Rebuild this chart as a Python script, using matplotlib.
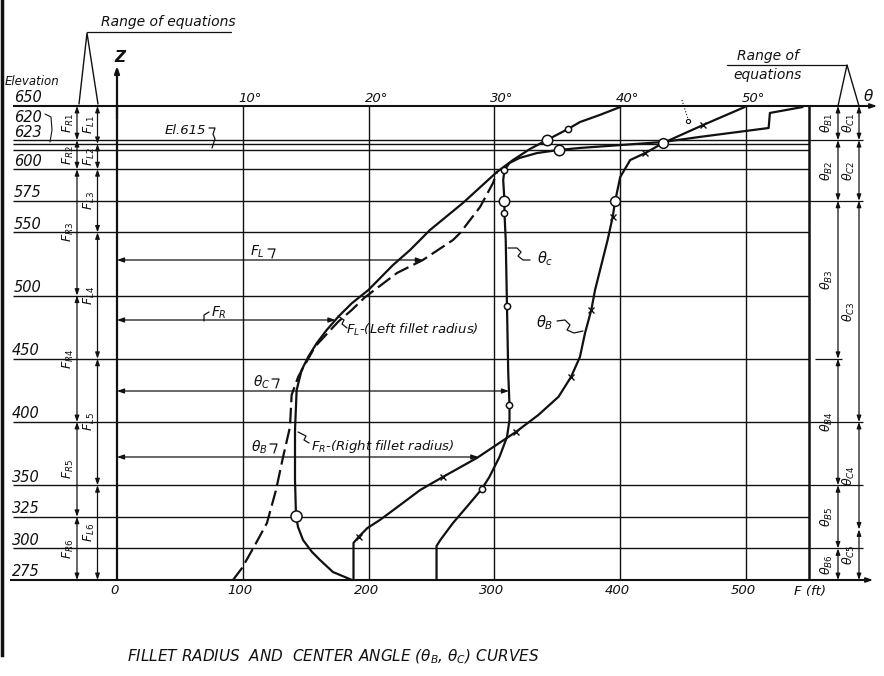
import numpy as np
import matplotlib
matplotlib.use("Agg")
import matplotlib.pyplot as plt

# ---------------- data ----------------
elev_labels = [650, 620, 623, 600, 575, 550, 500, 450, 400, 350, 325, 300, 275]
elev_lines = [650, 623, 620, 615, 600, 575, 550, 500, 450, 400, 350, 325, 300, 275]
elev_ext = [623, 575, 400, 350, 300]          # lines carried across the range columns
f_ticks = [0, 100, 200, 300, 400, 500]
deg_ticks = [10, 20, 30, 40, 50]               # 10 deg plotted at 100 ft
F_MAX = 550
Z_MIN, Z_MAX = 275, 650

# right fillet radius F_R (ft) vs elevation
fr_z = [275.0, 281.3, 290.8, 297.2, 306.6, 316.9, 325.6, 354.0, 393.7, 425.3, 441.2,
        451.7, 462.3, 472.8, 483.3, 493.9, 504.4, 524.2, 536.0, 551.9, 573.3, 597.8]
fr_F = [186.8, 171.7, 161.4, 155.0, 147.9, 143.9, 142.3, 141.5, 141.5, 142.8, 146.8,
        152.1, 158.7, 166.7, 175.9, 186.6, 199.8, 219.4, 232.9, 248.8, 275.0, 302.0]
# left fillet radius F_L (ft)
fl_z = [275.0, 284.5, 302.7, 320.1, 346.2, 372.3, 396.0, 421.4, 435.9, 459.6, 479.4,
        488.6, 498.7, 517.9, 528.2, 544.0, 549.5, 570.1, 589.1, 597.8]
fl_F = [92.2, 99.4, 109.7, 119.2, 126.4, 132.0, 137.5, 138.8, 144.1, 157.4, 175.9,
        186.6, 197.1, 222.6, 243.2, 267.1, 272.7, 288.6, 298.9, 302.0]
# common radius above El. 600
ftop_z = [597.8, 607.3, 616.0, 623.1, 631.8, 637.3, 643.0, 649.2]
ftop_F = [302.0, 314.8, 328.3, 341.8, 358.5, 368.0, 384.0, 400.0]
# center angle theta_C (deg)
thc_z = [275.0, 301.9, 306.6, 320.0, 332.8, 347.0, 356.5, 372.3, 388.1, 401.6, 413.4,
         438.8, 491.8, 544.0, 565.3, 574.8, 591.5, 599.4, 604.9, 608.9, 612.8, 615.2,
         616.8, 621.5, 625.5, 632.6, 644.5, 649.2]
thc_deg = [25.4, 25.4, 25.7, 26.7, 27.8, 29.0, 29.6, 30.4, 31.0, 31.2, 31.2,
           31.1, 31.0, 30.9, 30.8, 30.8, 30.7, 30.8, 31.2, 32.0, 33.4, 35.1,
           36.8, 43.4, 46.3, 51.8, 51.9, 54.5]
# center angle theta_B (deg)
thb_z = [275.0, 304.3, 309.0, 316.1, 322.5, 332.8, 346.2, 356.5, 371.5, 392.1, 405.6,
         420.0, 435.8, 451.5, 470.2, 488.6, 504.4, 544.0, 562.2, 574.8, 593.8, 607.3,
         612.8, 620.7, 635.0, 649.2]
thb_deg = [18.8, 18.8, 19.2, 19.9, 20.9, 22.3, 24.1, 25.9, 28.6, 31.7, 33.5,
           35.1, 36.1, 36.8, 37.2, 37.7, 38.0, 39.0, 39.4, 39.6, 40.0, 40.8,
           42.0, 43.4, 46.6, 49.9]

# marker positions (indices into the arrays above)
fr_big = [6]
ftop_big, ftop_small = [3], [4]
thc_small, thc_big = [5, 10, 12, 14, 17], [15, 21]
thb_x, thb_o = [2, 7, 9, 12, 15, 18, 22, 24], [19, 23]

# ranges of equations
fr_bounds = [650, 623, 600, 500, 400, 325, 275]
fl_bounds = [650, 620, 600, 550, 450, 350, 275]
thb_bounds = [650, 623, 575, 450, 350, 300, 275]
thc_bounds = [650, 623, 575, 400, 315, 275]

# ---------------- figure set-up (pixel <-> data helpers) ----------------
W, H = 884, 676
X0, SX = 117.0, 1.258
Y0, SY = 106.0, 1.264
def fx(px): return (px - X0) / SX
def fz(py): return 650 - (py - Y0) / SY
def P(px, py): return (fx(px), fz(py))

plt.rcParams['font.family'] = ['DejaVu Sans']
plt.rcParams['mathtext.fontset'] = 'dejavusans'
K = '#111111'
fig = plt.figure(figsize=(8.84, 6.76), dpi=100)
fig.patch.set_facecolor('white')
ax = fig.add_axes([0, 0, 1, 1])
ax.set_xlim(fx(0), fx(W))
ax.set_ylim(fz(H), fz(0))
ax.axis('off')

def txt(px, py, s, size=9, **kw):
    kw.setdefault('ha', 'left'); kw.setdefault('va', 'center')
    ax.text(*P(px, py), s, fontsize=size, style='italic', color=K, **kw)

def poly(pts, lw=0.9, **kw):
    xs = [fx(p[0]) for p in pts]; ys = [fz(p[1]) for p in pts]
    ax.plot(xs, ys, color=K, lw=lw, solid_capstyle='round', **kw)

def darrow(p1, p2, style='<|-|>', lw=0.9, ms=9):
    ax.annotate('', xy=p2, xytext=p1,
                arrowprops=dict(arrowstyle=style + ',head_length=0.45,head_width=0.16',
                                lw=lw, color=K, shrinkA=0, shrinkB=0, mutation_scale=ms))

# ---------------- grid / frame ----------------
ax.hlines([z for z in elev_lines if z not in (650, 275)], fx(13), F_MAX, color=K, lw=1.0)
ax.hlines(elev_ext, F_MAX, fx(863), color=K, lw=0.9)
ax.hlines([450], fx(815), fx(842), color=K, lw=0.9)
ax.vlines([d * 10 for d in deg_ticks], Z_MIN, Z_MAX, color=K, lw=1.0)
ax.vlines([F_MAX], Z_MIN, Z_MAX, color=K, lw=1.8)
# top (theta) and bottom (F) axes with arrows
ax.hlines([650], fx(13), fx(868), color=K, lw=1.5)
darrow((fx(860), 650), (fx(877), 650), style='-|>', lw=1.2)
ax.hlines([275], fx(10), fx(866), color=K, lw=1.5)
darrow((fx(860), 275), (fx(873), 275), style='-|>', lw=1.2)
# Z axis
ax.vlines([0], Z_MIN, 650, color=K, lw=1.6)
darrow((0, 640), (0, fz(66)), style='-|>', lw=1.6)
txt(114, 57, 'Z', size=11, weight='bold')
# scan border at left
ax.plot([fx(2), fx(2)], [fz(0), fz(655)], color=K, lw=2.5)

# ---------------- tick labels ----------------
for z in elev_labels:
    py = Y0 + (650 - z) * SY - 8
    if z == 620:
        py = 117
    txt(14 if z > 460 else 12, py, str(z), size=10.5)
txt(5, 81, 'Elevation', size=8.5)
poly([(45, 114), (51, 117), (52, 130), (50, 142)], lw=0.8)
for f in f_ticks:
    ax.text(f - 2, fz(591), str(f), fontsize=9.5, style='italic', ha='center', va='center', color=K)
for d in deg_ticks:
    ax.text(d * 10 + 6, fz(98), f'{d}°', fontsize=9.5, style='italic', ha='center', va='center', color=K)
txt(869, 96, r'$\theta$', size=11, ha='center')
txt(810, 592, 'F (ft)', size=9.5, ha='center')

# ---------------- curves ----------------
kw = dict(color=K, lw=1.6, solid_capstyle='round', solid_joinstyle='round')
fr_Fa, fl_Fa = np.array(fr_F), np.array(fl_F)
thc_Fa, thb_Fa = np.array(thc_deg) * 10, np.array(thb_deg) * 10
ax.plot(fr_Fa, fr_z, **kw)
ax.plot(fl_Fa, fl_z, color=K, lw=1.6, dashes=(7, 2.5))
ax.plot(ftop_F, ftop_z, **kw)
ax.plot(thc_Fa, thc_z, **kw)
ax.plot(thb_Fa, thb_z, **kw)

mo = dict(ls='none', marker='o', mfc='white', mec=K, mew=1.1)
ax.plot(fr_Fa[fr_big], np.array(fr_z)[fr_big], ms=8, **mo)
ax.plot(np.array(ftop_F)[ftop_big], np.array(ftop_z)[ftop_big], ms=7.5, **mo)
ax.plot(np.array(ftop_F)[ftop_small], np.array(ftop_z)[ftop_small], ms=4.5, **mo)
ax.plot(thc_Fa[thc_small], np.array(thc_z)[thc_small], ms=4.5, **mo)
ax.plot(thc_Fa[thc_big], np.array(thc_z)[thc_big], ms=7.5, **mo)
ax.plot(thb_Fa[thb_o], np.array(thb_z)[thb_o], ms=7, **mo)
ax.plot(thb_Fa[thb_x], np.array(thb_z)[thb_x], ls='none', marker='x', ms=4.5, mec=K, mew=1.0)
# dotted leader near the top
poly([(682, 100), (688, 119)], lw=0.8, ls=':')
ax.plot(*P(688, 121), ls='none', marker='o', ms=3, mfc='white', mec=K, mew=0.8)

# ---------------- illustrative dimension arrows from the Z axis ----------------
def zarrow(py, xs, zs):
    z = fz(py)
    xv = float(np.interp(z, zs, xs))
    darrow((0, z), (xv, z), lw=0.9)
zarrow(260, fl_F, fl_z)
zarrow(320, fr_F, fr_z)
zarrow(391, thc_Fa, thc_z)
zarrow(457, thb_Fa, thb_z)
txt(250, 252, r'$F_L$', size=10)
poly([(268, 249), (275, 249), (272, 258)], lw=0.9)
poly([(204, 321), (204, 315), (209, 312)], lw=0.9)
txt(211, 313, r'$F_R$', size=10)
txt(253, 382, r'$\theta_C$', size=10)
poly([(272, 379), (279, 379), (276, 388)], lw=0.9)
txt(251, 447, r'$\theta_B$', size=10)
poly([(270, 444), (277, 444), (274, 453)], lw=0.9)

# ---------------- curve labels ----------------
txt(346, 330, r'$F_L$-(Left fillet radius)', size=9.5)
poly([(347, 328), (342, 324), (344, 320), (338, 316)], lw=0.9)
txt(311, 446, r'$F_R$-(Right fillet radius)', size=9.5)
poly([(309, 443), (304, 440), (306, 436), (298, 432)], lw=0.9)
txt(537, 259, r'$\theta_c$', size=10.5)
poly([(508, 248), (517, 248), (521, 252), (518, 256), (523, 260), (530, 260)], lw=0.9)
txt(536, 323, r'$\theta_B$', size=10.5)
poly([(557, 321), (565, 320), (570, 325), (567, 330), (574, 333), (583, 331)], lw=0.9)
txt(165, 131, 'El.615', size=9.5)
poly([(209, 128), (215, 128), (213, 134), (215, 139), (212, 148)], lw=0.9)

# ---------------- ranges of equations ----------------
txt(101, 22, 'Range of equations', size=10)
poly([(87, 32), (231, 32)], lw=0.9)
poly([(79, 104), (87, 33), (98, 104)], lw=1.0)
txt(737, 56, 'Range of', size=10)
txt(733, 75, 'equations', size=10)
poly([(727, 65), (847, 65)], lw=0.9)
poly([(838, 106), (847, 65), (859, 106)], lw=1.0)

def ranges(xpx, bounds, fmt, lab_px):
    for i in range(len(bounds) - 1):
        darrow((fx(xpx), bounds[i]), (fx(xpx), bounds[i + 1]), lw=0.9, ms=8)
        zc = 0.5 * (bounds[i] + bounds[i + 1])
        ax.text(fx(lab_px), zc, fmt.format(i + 1), rotation=90, fontsize=9,
                ha='center', va='center', color=K)
ranges(77, fr_bounds, r'$F_{{R{}}}$', 68)
ranges(97.5, fl_bounds, r'$F_{{L{}}}$', 89)
ranges(838, thb_bounds, r'$\theta_{{B{}}}$', 827)
ranges(859, thc_bounds, r'$\theta_{{C{}}}$', 849)

# ---------------- title ----------------
ax.text(*P(333, 657), r'FILLET RADIUS  AND  CENTER ANGLE ($\theta_B$, $\theta_C$) CURVES',
        fontsize=11, style='italic', ha='center', va='center', color=K)

fig.savefig('out.png', dpi=100, facecolor='white')
